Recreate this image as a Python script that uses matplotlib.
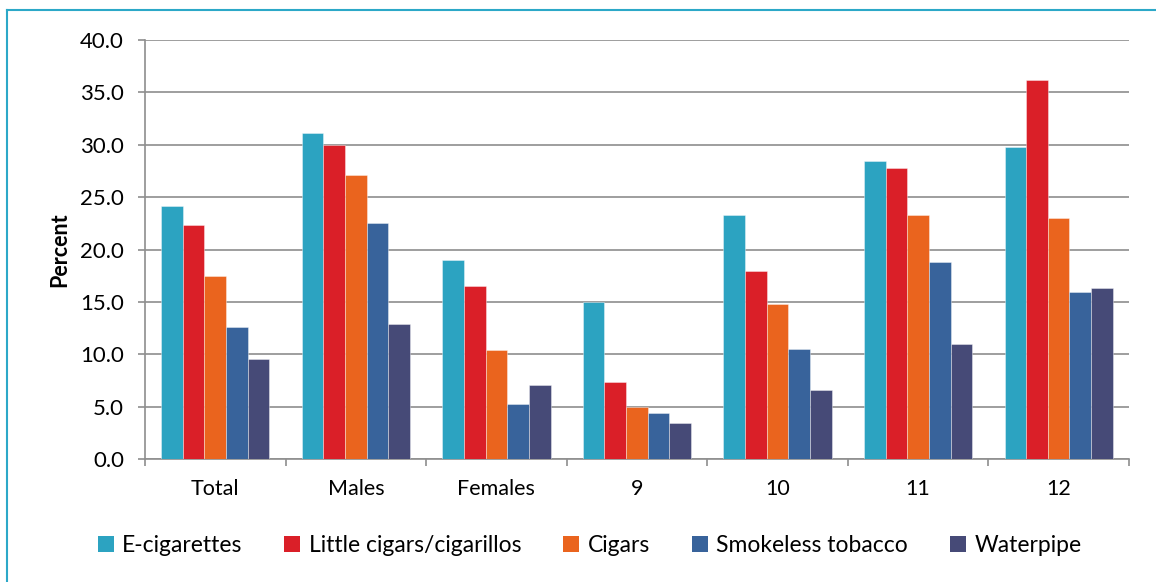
import numpy as np
import matplotlib
matplotlib.use("Agg")
import matplotlib.pyplot as plt
import matplotlib.patches as mpatches
from matplotlib.lines import Line2D

plt.rcParams["font.family"] = ["Lato", "DejaVu Sans"]

GROUPS = ["Total", "Males", "Females", "9", "10", "11", "12"]
PRODUCTS = ["E-cigarettes", "Little cigars/cigarillos", "Cigars",
            "Smokeless tobacco", "Waterpipe"]
COLORS = ["#2CA3C1", "#DA1F28", "#EA641E", "#38639B", "#464A77"]

ecig       = [24.1, 31.1, 19.0, 15.0, 23.3, 28.4, 29.8]
little_cig = [22.3, 30.0, 16.5, 7.4, 18.0, 27.8, 36.1]
cigars     = [17.5, 27.1, 10.4, 5.0, 14.8, 23.3, 23.0]
smokeless  = [12.6, 22.5, 5.3, 4.4, 10.5, 18.8, 16.0]
waterpipe  = [9.6, 12.9, 7.1, 3.5, 6.6, 11.0, 16.3]
SERIES = [ecig, little_cig, cigars, smokeless, waterpipe]

GRID = "#8E8E8E"

fig = plt.figure(figsize=(11.56, 5.82), dpi=100)
ax = fig.add_axes([0.1254, 0.2105, 0.8512, 0.7216])

x = np.arange(len(GROUPS))
w = 0.154
for i, (vals, col) in enumerate(zip(SERIES, COLORS)):
    ax.bar(x + (i - 2) * w, vals, width=w, color=col,
           edgecolor=(1, 1, 1, 0.45), linewidth=0.6, zorder=3)

ax.set_ylim(0, 40)
ax.set_xlim(-0.5, len(GROUPS) - 0.5)
ax.set_yticks(np.arange(0, 41, 5))
ax.set_yticklabels([f"{v:.1f}" for v in np.arange(0, 41, 5)])
ax.yaxis.grid(True, color=GRID, linewidth=1.2, zorder=0)
ax.set_axisbelow(True)

# boundary ticks between categories, labels centred under each group
ax.set_xticks(np.arange(-0.5, len(GROUPS), 1.0))
ax.set_xticklabels([])
ax.set_xticks(x, minor=True)
ax.set_xticklabels(GROUPS, minor=True)
ax.tick_params(axis="x", which="major", direction="out", length=5,
               width=1.2, color=GRID)
ax.tick_params(axis="x", which="minor", length=0, pad=14, labelsize=15.5)
ax.tick_params(axis="y", direction="out", length=5, width=1.2, color=GRID,
               pad=10, labelsize=16)

for s in ["top", "right"]:
    ax.spines[s].set_visible(False)
for s in ["left", "bottom"]:
    ax.spines[s].set_color(GRID)
    ax.spines[s].set_linewidth(1.2)

ax.set_ylabel("Percent", fontsize=15.5, fontweight="bold", labelpad=7)

handles = [mpatches.Patch(facecolor=c, edgecolor="none") for c in COLORS]
fig.legend(handles, PRODUCTS, loc="center", bbox_to_anchor=(0.51, 0.062),
           ncol=5, frameon=False, fontsize=16.5, handlelength=0.7,
           handleheight=0.7, handletextpad=0.35, columnspacing=1.85)

# teal frame along the top and left edges
fig.add_artist(Line2D([0.006, 1.0], [0.983, 0.983], transform=fig.transFigure,
                      color="#2CA8C8", linewidth=1.5))
fig.add_artist(Line2D([0.006, 0.006], [0.0, 0.983], transform=fig.transFigure,
                      color="#2CA8C8", linewidth=1.5))

fig.savefig("out.png", dpi=100, facecolor="white")
